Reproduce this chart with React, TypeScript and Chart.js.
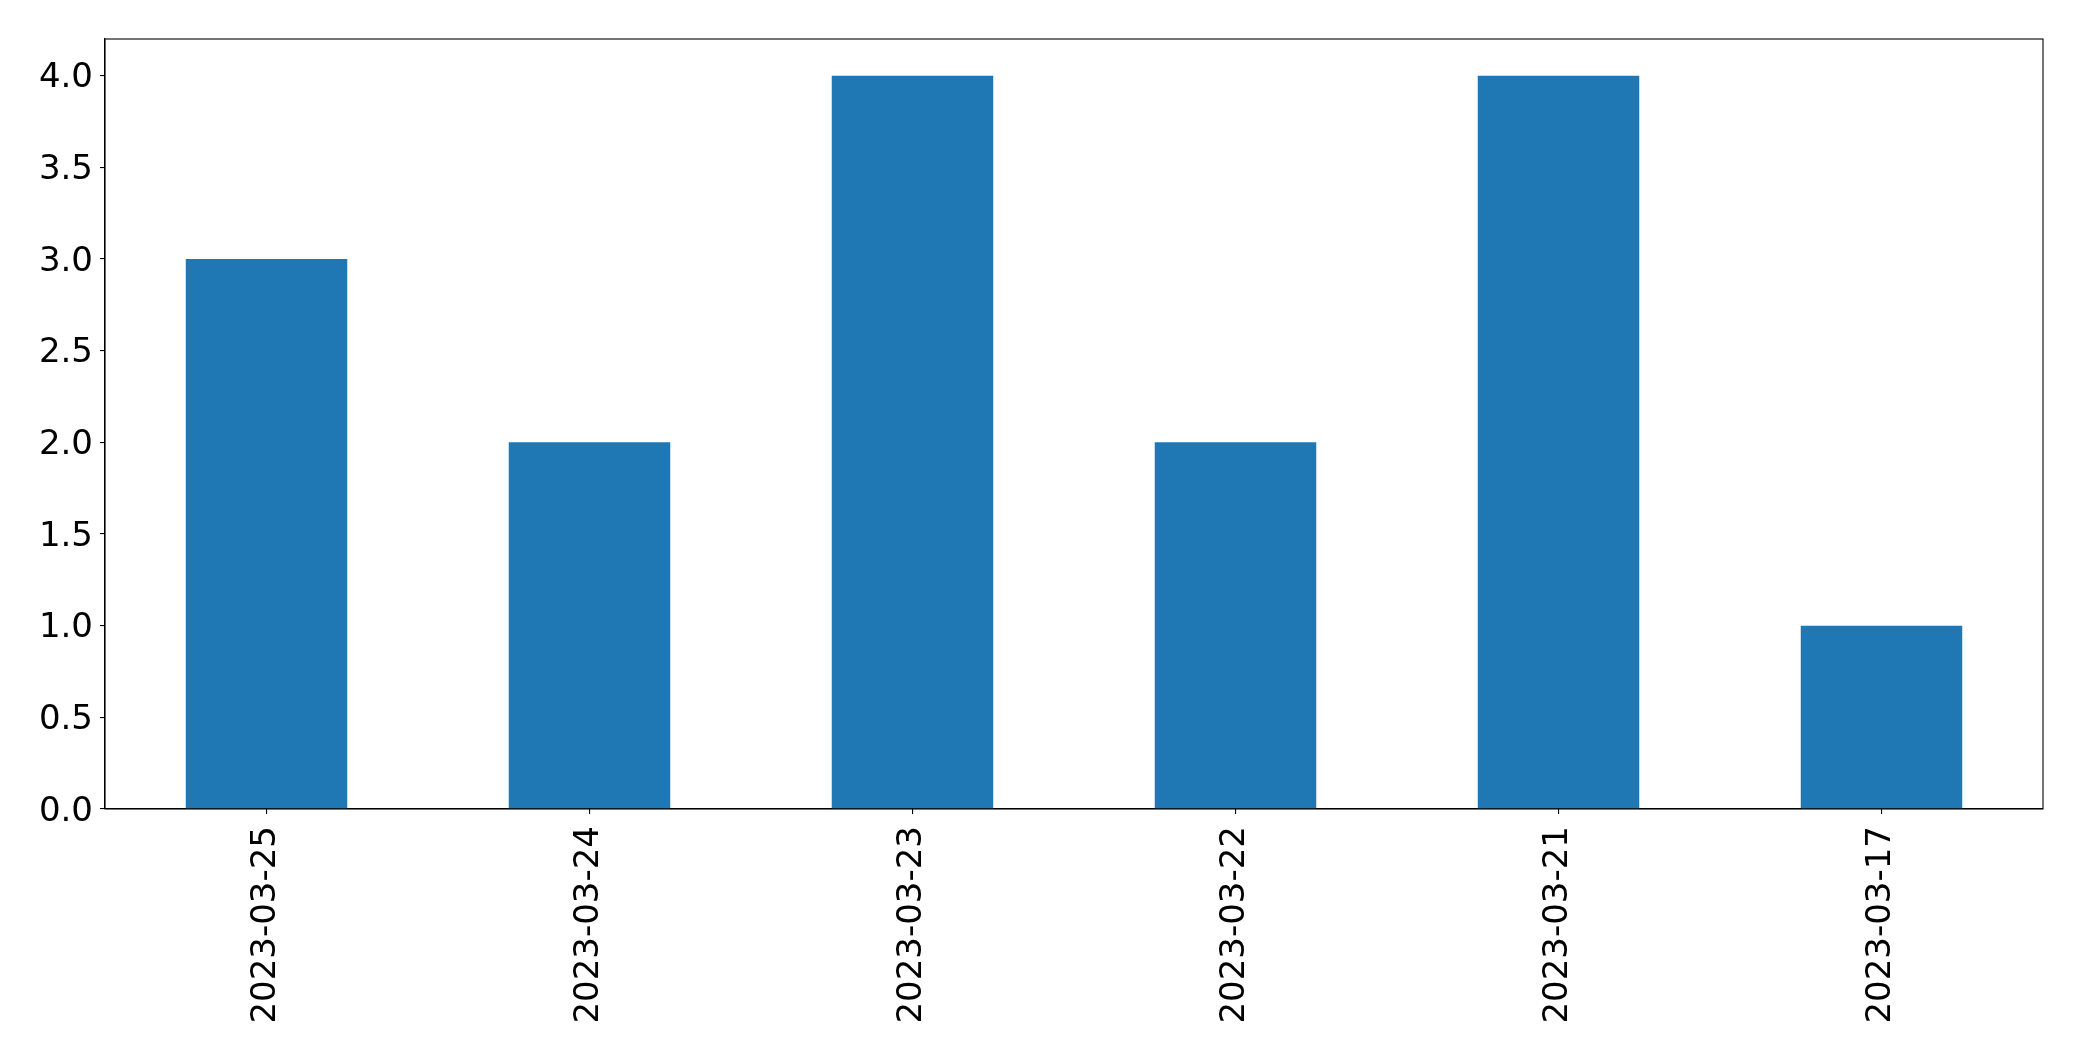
import React, { useEffect, useRef } from "react";
import { Chart, registerables } from "chart.js";

Chart.register(...registerables);

const categories = ["2023-03-25", "2023-03-24", "2023-03-23", "2023-03-22", "2023-03-21", "2023-03-17"];
const counts = [3, 2, 4, 2, 4, 1];
const yTickValues = [0, 0.5, 1, 1.5, 2, 2.5, 3, 3.5, 4];

const W = 2082;
const H = 1061;
const FONT = "'DejaVu Sans', sans-serif";

const framePlugin = {
  id: "frame",
  afterDraw(chart: any) {
    const { ctx, chartArea } = chart;
    ctx.save();
    ctx.strokeStyle = "#000";
    ctx.lineWidth = 1.1;
    ctx.strokeRect(chartArea.left, chartArea.top, chartArea.right - chartArea.left, chartArea.bottom - chartArea.top);
    ctx.restore();
  },
};

export default function App() {
  const ref = useRef<HTMLCanvasElement | null>(null);
  useEffect(() => {
    if (!ref.current) return;
    const chart = new Chart(ref.current, {
      type: "bar",
      data: {
        labels: categories,
        datasets: [
          {
            data: counts,
            backgroundColor: "#1f77b4",
            borderWidth: 0,
            barPercentage: 0.5,
            categoryPercentage: 1,
          },
        ],
      },
      plugins: [framePlugin],
      options: {
        animation: false,
        responsive: false,
        devicePixelRatio: 1,
        layout: { padding: { top: 39, right: 39, left: 0, bottom: 0 } },
        plugins: { legend: { display: false }, tooltip: { enabled: false } },
        scales: {
          x: {
            grid: { display: true, offset: false, drawOnChartArea: false, drawTicks: true, tickLength: 5, color: "#000", lineWidth: 1.1 },
            border: { display: true, color: "#000", width: 1.1 },
            ticks: {
              color: "#000",
              font: { family: FONT, size: 34 },
              minRotation: 90,
              maxRotation: 90,
              padding: 12,
              autoSkip: false,
            },
            afterFit(scale: any) {
              scale.height = H - 809;
            },
          },
          y: {
            min: 0,
            max: 4.2,
            grid: { display: true, drawOnChartArea: false, drawTicks: true, tickLength: 5, color: "#000", lineWidth: 1.1 },
            border: { display: true, color: "#000", width: 1.1 },
            afterBuildTicks(scale: any) {
              scale.ticks = yTickValues.map((v) => ({ value: v }));
            },
            ticks: {
              color: "#000",
              font: { family: FONT, size: 34 },
              padding: 7,
              labelOffset: 3,
              callback: (v: any) => Number(v).toFixed(1),
            },
            afterFit(scale: any) {
              scale.width = 105;
            },
          },
        },
      },
    });
    return () => chart.destroy();
  }, []);
  return (
    <canvas
      ref={ref}
      width={W}
      height={H}
      style={{ position: "absolute", left: 0, top: 0, width: W, height: H, display: "block", background: "#fff" }}
    />
  );
}
